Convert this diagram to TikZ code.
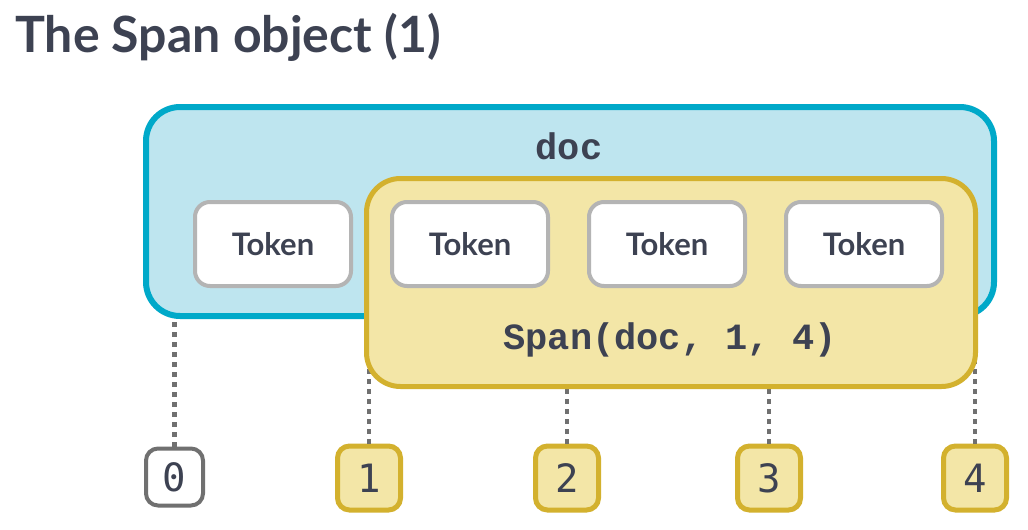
\documentclass[tikz,border=0pt]{standalone}
\usepackage{fontspec}
\setmainfont{Lato}
\newfontfamily\codefont{Liberation Mono}
\newfontfamily\digitfont{DejaVu Sans Mono}
\usetikzlibrary{positioning}
\definecolor{textdark}{RGB}{61,66,82}
\definecolor{cDoc}{RGB}{0,169,201}
\definecolor{cDocFill}{RGB}{190,229,239}
\definecolor{cSpan}{RGB}{211,177,46}
\definecolor{cSpanFill}{RGB}{243,230,167}
\definecolor{tokgray}{RGB}{180,180,180}
\definecolor{midgray}{RGB}{112,112,112}

\begin{document}
\begin{tikzpicture}[x=0.5pt, y=-0.5pt, text=textdark, node distance=18.5pt,
      docbox/.style={rectangle, rounded corners=17pt, draw=cDoc, fill=cDocFill,
                line width=3pt, minimum width=424pt, minimum height=104.5pt, inner sep=0pt},
      spanbox/.style={rectangle, rounded corners=17pt, draw=cSpan, fill=cSpanFill,
                line width=2.5pt, minimum width=304.5pt, minimum height=104pt, inner sep=0pt},
      tok/.style={rectangle, rounded corners=7.5pt, draw=tokgray, fill=white,
                line width=2pt, minimum width=78pt, minimum height=42pt, inner sep=0pt,
                font=\fontsize{15.5}{18}\selectfont\bfseries},
      idx/.style={rectangle, rounded corners=6pt, draw=midgray, fill=white,
                line width=2pt, minimum width=28.5pt, minimum height=28.5pt, inner sep=0pt,
                font=\digitfont\fontsize{19.5}{22}\selectfont},
      idxspan/.style={idx, draw=cSpan, fill=cSpanFill, line width=2.5pt,
                minimum width=31.5pt, minimum height=32pt},
      code/.style={font=\codefont\fontsize{18.5}{20}\selectfont\bfseries, inner sep=0pt},
      tick/.style={midgray, line width=2.2pt, dash pattern=on 2.5pt off 2.5pt}]
    \useasboundingbox[fill=white] (0,0) rectangle (1028,530);
    \node[anchor=base west, inner sep=0pt, font=\fontsize{25}{30}\selectfont\bfseries] (title) at (15,53) {The Span object (1)};
    % positions 0 to 4
    \node[idx]     (i0) at (174.5,477) {0};
    \node[idxspan] (i1) at (369,478) {1};
    \node[idxspan] (i2) at (567,478) {2};
    \node[idxspan] (i3) at (769,478) {3};
    \node[idxspan] (i4) at (975,478) {4};
    \foreach \i in {0,...,4}
      \draw[tick] (i\i.north) -- (i\i |- 0,300);
    % the doc and its tokens
    \node[docbox] (doc) at (570,211.5) {};
    \node[code] (doclbl) at (569,146) {doc};
    \node[tok] (t0) at (273,244) {Token};
    \node[spanbox] (span) at (671,282.5) {};
    \node[tok, right=of t0] (t1) {Token};
    \node[tok, right=of t1] (t2) {Token};
    \node[tok, right=of t2] (t3) {Token};
    \node[code] (spanlbl) at (670,340) {Span(doc, 1, 4)};
  \end{tikzpicture}
\end{document}
